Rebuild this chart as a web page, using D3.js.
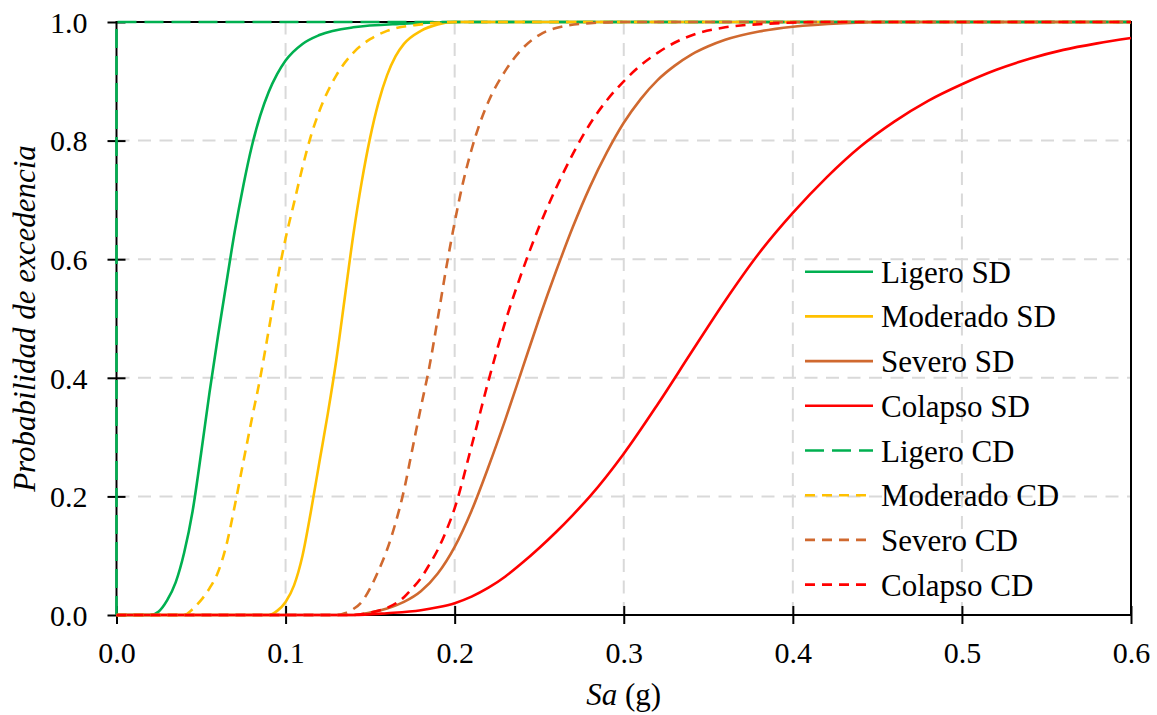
<!DOCTYPE html>
<html>
<head>
<meta charset="utf-8">
<script src="https://cdn.jsdelivr.net/npm/d3@7"></script>
<style>
  body { margin: 0; background: #fff; }
</style>
</head>
<body>
<script>

// fragility curves: [Sa (g), probability]
var ligeroSD = [[0,0],[0.02,0],[0.025,0.006],[0.03,0.025],[0.035,0.055],[0.04,0.105],[0.045,0.175],[0.05,0.272],
    [0.055,0.375],[0.06,0.47],[0.065,0.56],[0.07,0.648],[0.075,0.724],[0.08,0.79],[0.085,0.842],[0.09,0.882],
    [0.095,0.912],[0.1,0.935],[0.11,0.963],[0.12,0.978],[0.14,0.991],[0.17,0.997],[0.2,1],[0.6,1]];
var moderadoSD = [[0,0],[0.09,0],[0.095,0.007],[0.1,0.022],[0.105,0.05],[0.11,0.1],[0.115,0.175],[0.12,0.258],
    [0.125,0.34],[0.13,0.43],[0.135,0.535],[0.14,0.64],[0.145,0.73],[0.15,0.805],[0.155,0.865],[0.16,0.91],
    [0.165,0.942],[0.17,0.963],[0.18,0.985],[0.19,0.996],[0.2,1],[0.6,1]];
var severoSD = [[0,0],[0.14,0],[0.15,0.004],[0.16,0.011],[0.17,0.022],[0.18,0.04],[0.19,0.07],[0.2,0.115],
    [0.21,0.176],[0.22,0.25],[0.23,0.33],[0.24,0.415],[0.25,0.5],[0.26,0.58],[0.27,0.655],[0.28,0.722],
    [0.29,0.78],[0.3,0.83],[0.31,0.87],[0.32,0.902],[0.33,0.926],[0.34,0.945],[0.35,0.959],[0.36,0.97],
    [0.38,0.984],[0.4,0.992],[0.43,0.998],[0.46,1],[0.6,1]];
var colapsoSD = [[0,0],[0.14,0],[0.16,0.003],[0.18,0.008],[0.19,0.013],[0.2,0.02],[0.21,0.031],[0.22,0.046],
    [0.23,0.065],[0.24,0.088],[0.25,0.113],[0.26,0.14],[0.27,0.169],[0.28,0.2],[0.3,0.272],[0.32,0.355],
    [0.34,0.443],[0.36,0.53],[0.38,0.61],[0.4,0.678],[0.42,0.738],[0.44,0.79],[0.46,0.832],[0.48,0.867],
    [0.5,0.895],[0.52,0.919],[0.54,0.938],[0.56,0.953],[0.58,0.964],[0.6,0.973]];
var ligeroCD = [[0,0],[0,1],[0.6,1]];
var moderadoCD = [[0,0],[0.04,0],[0.045,0.01],[0.05,0.025],[0.055,0.045],[0.06,0.072],[0.065,0.118],[0.07,0.185],
    [0.075,0.258],[0.08,0.33],[0.085,0.4],[0.09,0.48],[0.095,0.563],[0.1,0.635],[0.105,0.695],[0.11,0.755],
    [0.115,0.808],[0.12,0.85],[0.13,0.91],[0.14,0.948],[0.15,0.971],[0.16,0.985],[0.18,0.996],[0.2,1],[0.6,1]];
var severoCD = [[0,0],[0.13,0],[0.135,0.003],[0.14,0.01],[0.145,0.022],[0.15,0.045],[0.155,0.075],[0.16,0.11],
    [0.165,0.155],[0.17,0.21],[0.175,0.28],[0.18,0.35],[0.185,0.418],[0.19,0.5],[0.195,0.585],[0.2,0.662],
    [0.205,0.73],[0.21,0.785],[0.215,0.83],[0.22,0.866],[0.23,0.918],[0.24,0.955],[0.25,0.978],[0.26,0.99],
    [0.28,0.998],[0.3,1],[0.6,1]];
var colapsoCD = [[0,0],[0.14,0],[0.15,0.004],[0.16,0.012],[0.17,0.03],[0.175,0.045],[0.18,0.062],[0.185,0.085],
    [0.19,0.11],[0.195,0.142],[0.2,0.18],[0.21,0.285],[0.22,0.395],[0.23,0.495],[0.24,0.58],[0.25,0.655],
    [0.26,0.72],[0.27,0.778],[0.28,0.828],[0.29,0.868],[0.3,0.9],[0.31,0.927],[0.32,0.948],[0.33,0.965],
    [0.345,0.982],[0.36,0.991],[0.385,0.997],[0.42,1],[0.6,1]];

var seriesNames = ["Ligero SD", "Moderado SD", "Severo SD", "Colapso SD",
                   "Ligero CD", "Moderado CD", "Severo CD", "Colapso CD"];
var seriesData = [ligeroSD, moderadoSD, severoSD, colapsoSD, ligeroCD, moderadoCD, severoCD, colapsoCD];

var xTicks = [0, 0.1, 0.2, 0.3, 0.4, 0.5, 0.6];
var yTicks = [0, 0.2, 0.4, 0.6, 0.8, 1.0];

// styling, one entry per series
var colors = ["#00b050", "#ffc000", "#d0692f", "#ff0000", "#00b050", "#ffc000", "#d0692f", "#ff0000"];
var dashes = [null, null, null, null, "19,8", "10,7", "10,7", "10,7"];

var serif = "'Liberation Serif', 'Times New Roman', serif";

var width = 1157,
    height = 715,
    margin = { top: 22, right: 26, bottom: 100, left: 116.5 };

var x = d3.scaleLinear()
    .domain([0, 0.6])
    .range([margin.left, width - margin.right]);

var y = d3.scaleLinear()
    .domain([0, 1])
    .range([height - margin.bottom, margin.top]);

var svg = d3.select("body").append("svg")
    .attr("width", width)
    .attr("height", height);

// gridlines
svg.append("g")
    .selectAll("line")
    .data(xTicks.slice(1, -1))
    .enter().append("line")
        .attr("x1", function(d) { return x(d); })
        .attr("x2", function(d) { return x(d); })
        .attr("y1", y(0))
        .attr("y2", y(1))
        .attr("stroke", "#d9d9d9")
        .attr("stroke-width", 2)
        .attr("stroke-dasharray", "13,8.5");

svg.append("g")
    .selectAll("line")
    .data(yTicks.slice(1))
    .enter().append("line")
        .attr("x1", x(0))
        .attr("x2", x(0.6))
        .attr("y1", function(d) { return y(d); })
        .attr("y2", function(d) { return y(d); })
        .attr("stroke", "#d9d9d9")
        .attr("stroke-width", 2)
        .attr("stroke-dasharray", "13,8.5");

// plot frame
svg.append("rect")
    .attr("x", x(0))
    .attr("y", y(1))
    .attr("width", x(0.6) - x(0))
    .attr("height", y(0) - y(1))
    .attr("fill", "none")
    .attr("stroke", "#000")
    .attr("stroke-width", 2);

// axes with ticks crossing the frame
var xAxis = svg.append("g")
    .attr("transform", "translate(0," + y(0) + ")")
    .call(d3.axisBottom(x).tickValues(xTicks).tickFormat(d3.format(".1f"))
        .tickSizeInner(9).tickSizeOuter(0).tickPadding(18));
xAxis.select(".domain").remove();
xAxis.selectAll(".tick line")
    .attr("y1", -9)
    .attr("stroke-width", 2);
xAxis.selectAll(".tick text")
    .style("font-family", serif)
    .style("font-size", "30px");

var yAxis = svg.append("g")
    .attr("transform", "translate(" + x(0) + ",0)")
    .call(d3.axisLeft(y).tickValues(yTicks).tickFormat(d3.format(".1f"))
        .tickSizeInner(9).tickSizeOuter(0).tickPadding(20));
yAxis.select(".domain").remove();
yAxis.selectAll(".tick line")
    .attr("x1", 9)
    .attr("stroke-width", 2);
yAxis.selectAll(".tick text")
    .style("font-family", serif)
    .style("font-size", "30px")
    .attr("dy", "0.34em");

// curves
var line = d3.line()
    .x(function(d) { return x(d[0]); })
    .y(function(d) { return y(d[1]); })
    .curve(d3.curveMonotoneX);

var lineStraight = d3.line()
    .x(function(d) { return x(d[0]); })
    .y(function(d) { return y(d[1]); });

svg.append("g")
    .selectAll("path")
    .data(seriesData)
    .enter().append("path")
        .attr("d", function(d, i) { return i == 4 ? lineStraight(d) : line(d); })
        .attr("fill", "none")
        .attr("stroke", function(d, i) { return colors[i]; })
        .attr("stroke-width", 2.6)
        .attr("stroke-dasharray", function(d, i) { return dashes[i]; });

// legend
var legend = svg.append("g")
    .selectAll("g")
    .data(seriesNames)
    .enter().append("g")
        .attr("transform", function(d, i) { return "translate(805," + (271.7 + i * 44.7) + ")"; });

legend.append("line")
    .attr("x1", 0)
    .attr("x2", 68)
    .attr("stroke", function(d, i) { return colors[i]; })
    .attr("stroke-width", 2.6)
    .attr("stroke-dasharray", function(d, i) { return dashes[i]; });

legend.append("text")
    .attr("x", 76)
    .attr("y", 11)
    .style("font-family", serif)
    .style("font-size", "31px")
    .text(function(d) { return d; });

// axis titles
var xTitle = svg.append("text")
    .attr("x", x(0.3))
    .attr("y", 705)
    .attr("text-anchor", "middle")
    .style("font-family", serif)
    .style("font-size", "31px");
xTitle.append("tspan").style("font-style", "italic").text("Sa");
xTitle.append("tspan").text(" (g)");

svg.append("text")
    .attr("transform", "translate(35," + ((y(0) + y(1)) / 2) + ") rotate(-90)")
    .attr("text-anchor", "middle")
    .style("font-family", serif)
    .style("font-style", "italic")
    .style("font-size", "31px")
    .text("Probabilidad de excedencia");

</script>
</body>
</html>
